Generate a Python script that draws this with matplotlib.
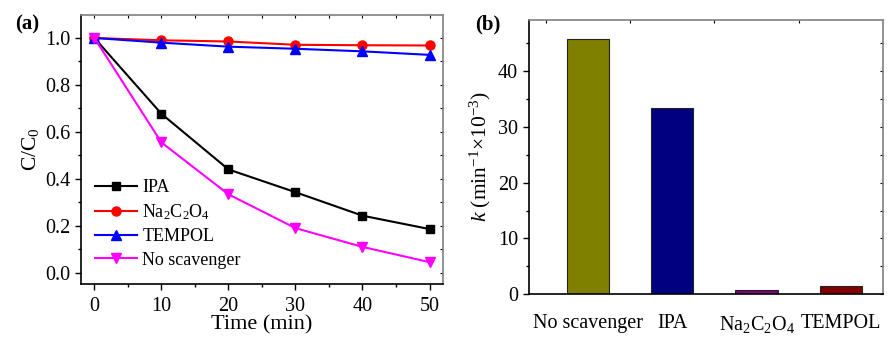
import numpy as np
import matplotlib
matplotlib.use("Agg")
import matplotlib.pyplot as plt
from matplotlib.ticker import MultipleLocator, FixedLocator

plt.rcParams['font.family'] = ['Liberation Serif', 'DejaVu Serif']
plt.rcParams['mathtext.fontset'] = 'custom'
plt.rcParams['mathtext.rm'] = 'Liberation Serif'
plt.rcParams['mathtext.it'] = 'Liberation Serif:italic'

# panel (a) data
time = [0, 10, 20, 30, 40, 50]
ipa = [1.0, 0.677, 0.44, 0.343, 0.243, 0.186]
na2c2o4 = [1.0, 0.99, 0.985, 0.971, 0.969, 0.968]
tempol = [1.0, 0.98, 0.963, 0.954, 0.943, 0.928]
no_scav = [1.0, 0.555, 0.334, 0.19, 0.11, 0.045]

# panel (b) data
bar_labels = ['No scavenger', 'IPA', 'Na$_2$C$_2$O$_4$', 'TEMPOL']
k_values = [45.8, 33.4, 0.66, 1.44]
bar_colors = ['#808000', '#000080', '#800080', '#800000']

fig = plt.figure(figsize=(8.93, 3.4), dpi=100)
ax1 = fig.add_axes([0.0907, 0.1647, 0.4053, 0.7913])
ax2 = fig.add_axes([0.592, 0.135, 0.397, 0.806])


def style_axes(ax):
    for s in ['left', 'bottom']:
        ax.spines[s].set_color('black')
        ax.spines[s].set_linewidth(1.2)
    for s in ['top', 'right']:
        ax.spines[s].set_color('#808080')
        ax.spines[s].set_linewidth(1.2)
    ax.tick_params(which='both', direction='out', labelsize=14.5, width=1.0)
    ax.tick_params(which='major', length=4)
    ax.tick_params(which='minor', length=2.5)


# ---- (a) ----
ax1.plot(time, ipa, color='black', marker='s', ms=6, lw=1.5, label='IPA')
ax1.plot(time, na2c2o4, color='red', marker='o', ms=6.5, lw=1.5, label='Na$_2$C$_2$O$_4$')
ax1.plot(time, tempol, color='blue', marker='^', ms=7, lw=1.5, label='TEMPOL')
ax1.plot(time, no_scav, color='magenta', marker='v', ms=7, lw=1.5, label='No scavenger')
ax1.set_xlim(-2, 52)
ax1.set_ylim(-0.048, 1.098)
ax1.xaxis.set_major_locator(MultipleLocator(10))
ax1.xaxis.set_minor_locator(MultipleLocator(5))
ax1.yaxis.set_major_locator(MultipleLocator(0.2))
ax1.yaxis.set_minor_locator(MultipleLocator(0.1))
ax1.yaxis.set_major_formatter(matplotlib.ticker.FormatStrFormatter('%.1f'))
style_axes(ax1)
ax1.tick_params(axis='x', pad=5)
ax1.set_xlabel('Time (min)', fontsize=16, labelpad=0)
ax1.set_ylabel('C/C$_0$', fontsize=15.5, labelpad=3)
# top/right small inward ticks
sec_x = ax1.secondary_xaxis('top')
sec_x.xaxis.set_major_locator(MultipleLocator(5))
sec_x.tick_params(direction='in', length=2.5, labeltop=False, color='black')
sec_x.spines['top'].set_visible(False)
sec_y = ax1.secondary_yaxis('right')
sec_y.yaxis.set_major_locator(MultipleLocator(0.1))
sec_y.tick_params(direction='in', length=2.5, labelright=False, color='black')
sec_y.spines['right'].set_visible(False)
ax1.legend(loc='lower left', bbox_to_anchor=(0.02, 0.03), frameon=False,
           fontsize=13, handlelength=2.3, handletextpad=0.3, labelspacing=0.35,
           borderaxespad=0)
fig.text(0.017, 0.912, '(a)', fontsize=15, fontweight='bold')

# ---- (b) ----
xpos = np.arange(len(k_values))
ax2.bar(xpos, k_values, width=0.5, color=bar_colors, edgecolor='#222222', linewidth=0.8)
ax2.set_xlim(-0.7, 3.5)
ax2.set_ylim(0, 49.2)
ax2.set_xticks(xpos)
ax2.set_xticklabels(bar_labels)
ax2.yaxis.set_major_locator(MultipleLocator(10))
ax2.yaxis.set_minor_locator(MultipleLocator(5))
style_axes(ax2)
ax2.tick_params(axis='x', length=0, pad=14)
ax2.set_ylabel('$k$ (min$^{-1}$$\\times$10$^{-3}$)', fontsize=15.5, labelpad=4)
sec_x2 = ax2.secondary_xaxis('top')
sec_x2.xaxis.set_major_locator(FixedLocator([-0.5, 0.5, 1.5, 2.5]))
sec_x2.tick_params(direction='in', length=2.5, labeltop=False, color='black')
sec_x2.spines['top'].set_visible(False)
sec_y2 = ax2.secondary_yaxis('right')
sec_y2.yaxis.set_major_locator(MultipleLocator(5))
sec_y2.tick_params(direction='in', length=2.5, labelright=False, color='black')
sec_y2.spines['right'].set_visible(False)
fig.text(0.532, 0.912, '(b)', fontsize=15, fontweight='bold')

fig.savefig('out.png', dpi=100)
